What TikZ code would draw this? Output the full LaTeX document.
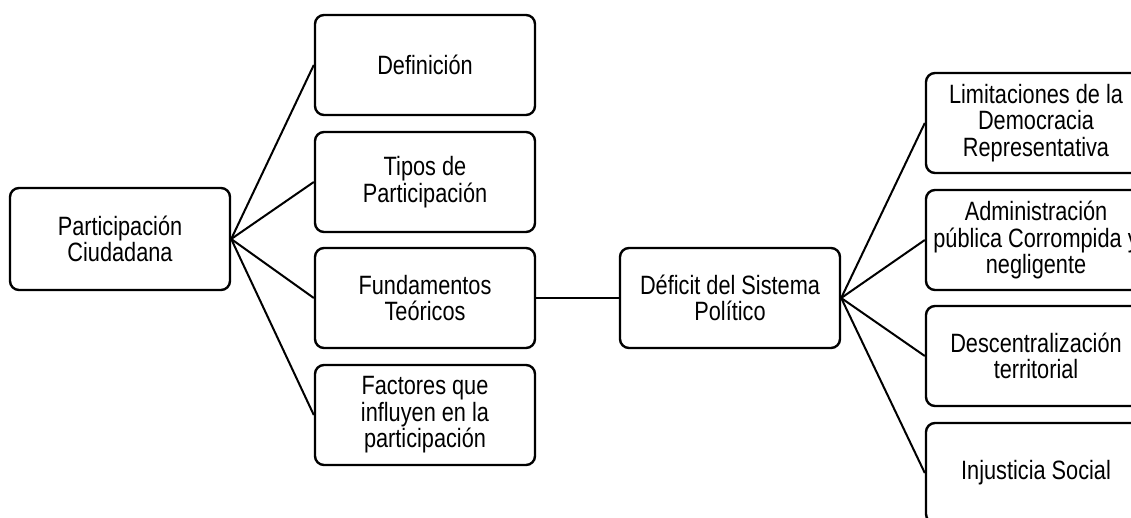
\documentclass[tikz,border=0pt]{standalone}
\usepackage{fontspec}
\setmainfont{Liberation Sans}[FakeStretch=0.82]
\begin{document}
\begin{tikzpicture}[x=1pt,y=-1pt,
  box/.style={draw=black, line width=2.4pt, rounded corners=9pt, fill=white,
    minimum width=220pt, minimum height=100pt, align=center, inner sep=2pt,
    font=\fontsize{26.5}{26.6}\selectfont},
  link/.style={draw=black, line width=2pt}]
\clip (0,0) rectangle (1131,517);
\useasboundingbox (0,0) rectangle (1131,517);
\node[box, minimum height=102pt] (pc) at (120,239) {Participación\\Ciudadana};
\node[box] (def) at (425,65) {Definición};
\node[box] (tip) at (425,182) {Tipos de\\Participación};
\node[box] (fun) at (425,298) {Fundamentos\\Teóricos};
\node[box] (fac) at (425,415) {Factores que\\influyen en la\\participación};
\node[box] (dsp) at (730,298) {Déficit del Sistema\\Político};
\node[box] (lim) at (1036,123) {Limitaciones de la\\Democracia\\Representativa};
\node[box] (adm) at (1036,240) {Administración\\pública Corrompida y\\negligente};
\node[box] (des) at (1036,356) {Descentralización\\territorial};
\node[box] (inj) at (1036,473) {Injusticia Social};
\foreach \t in {def,tip,fun,fac} \draw[link] (pc.east) -- (\t.west);
\draw[link] (fun.east) -- (dsp.west);
\foreach \t in {lim,adm,des,inj} \draw[link] (dsp.east) -- (\t.west);
\end{tikzpicture}
\end{document}
